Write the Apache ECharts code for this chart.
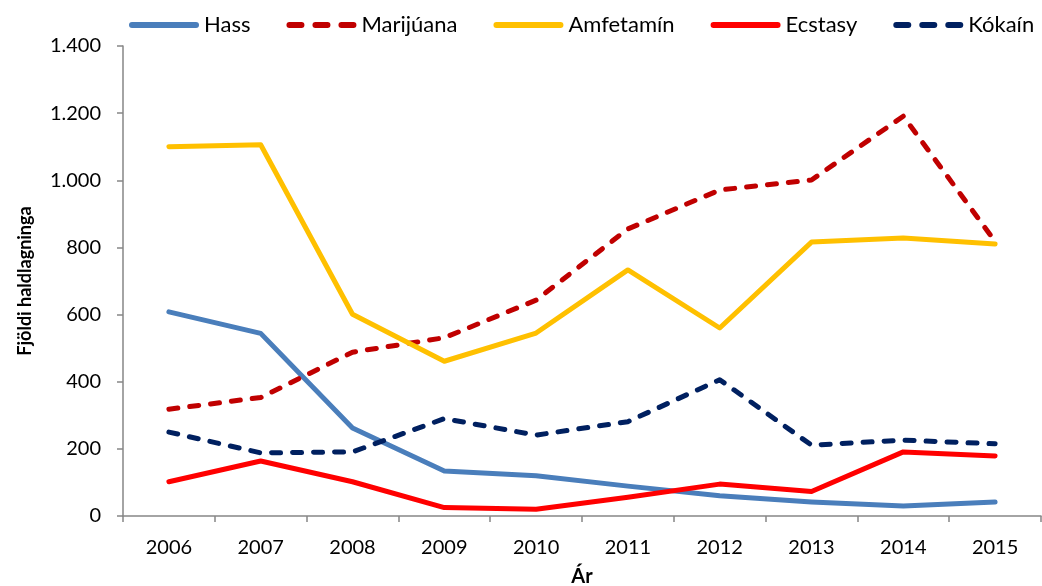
<!DOCTYPE html>
<html>
<head>
<meta charset="utf-8">
<script src="https://cdn.jsdelivr.net/npm/echarts@6/dist/echarts.min.js"></script>
<style>html,body{margin:0;padding:0;background:#fff}#c{width:1042px;height:586px}</style>
</head>
<body>
<div id="c"></div>
<script>
const years = ['2006','2007','2008','2009','2010','2011','2012','2013','2014','2015'];
const hass = [608, 544, 262, 134, 120, 89, 60, 42, 30, 42];
const marijuana = [318, 353, 488, 531, 643, 855, 971, 1001, 1191, 818];
const amfetamin = [1100, 1106, 601, 461, 545, 733, 560, 816, 828, 810];
const ecstasy = [102, 164, 102, 25, 20, 56, 95, 73, 191, 179];
const kokain = [250, 188, 191, 290, 241, 281, 406, 211, 226, 215];
const seriesNames = ['Hass','Marijúana','Amfetamín','Ecstasy','Kókaín'];
const yMin = 0, yMax = 1400, yStep = 200;

const font = 'Lato, "Open Sans", sans-serif';
const dash = [9, 12];
// legend icons (shapes only)
const solidIcon = 'path://M3,0H67A3,3 0 0 1 67,6H3A3,3 0 0 1 3,0Z';
const dashIcon = 'path://M3,0H15A3,3 0 0 1 15,6H3A3,3 0 0 1 3,0Z M29,0H41A3,3 0 0 1 41,6H29A3,3 0 0 1 29,0Z M55,0H67A3,3 0 0 1 67,6H55A3,3 0 0 1 55,0Z';
const iconOf = { 'Hass': solidIcon, 'Marijúana': dashIcon, 'Amfetamín': solidIcon, 'Ecstasy': solidIcon, 'Kókaín': dashIcon };
function mk(name, data, color, dashed) {
  return {
    name, type: 'line', data, symbol: 'none', showSymbol: false,
    lineStyle: { color, width: 5, type: dashed ? dash : 'solid', cap: 'round', join: 'round' },
    itemStyle: { color },
    emphasis: { disabled: true }
  };
}
const chart = echarts.init(document.getElementById('c'), null, { renderer: 'canvas' });
chart.setOption({
  animation: false,
  backgroundColor: '#fff',
  textStyle: { fontFamily: font },
  legend: {
    top: 9, left: 124,
    itemWidth: 70, itemHeight: 6, itemGap: 36,
    textStyle: { fontSize: 22, color: '#000', fontFamily: font },
    data: seriesNames.map(n => ({ name: n, icon: iconOf[n] }))
  },
  grid: { left: 123, right: 1, top: 46, bottom: 70, containLabel: false, outerBoundsMode: 'none' },
  xAxis: {
    type: 'category', data: years, boundaryGap: true,
    name: 'Ár', nameLocation: 'middle', nameGap: 51,
    nameTextStyle: { fontSize: 20, fontWeight: 'bold', color: '#000', fontFamily: font },
    axisLine: { lineStyle: { color: '#868686', width: 1.5 } },
    axisTick: { show: true, alignWithLabel: false, length: 6, lineStyle: { color: '#868686', width: 1.5 } },
    axisLabel: { fontSize: 20, color: '#000', margin: 22, fontFamily: font },
    splitLine: { show: false }
  },
  yAxis: {
    type: 'value', min: yMin, max: yMax, interval: yStep,
    name: 'Fjöldi haldlagninga', nameLocation: 'middle', nameGap: 89, nameRotate: 90,
    nameTextStyle: { fontSize: 18, fontWeight: 'bold', color: '#000', fontFamily: font },
    axisLine: { show: true, lineStyle: { color: '#868686', width: 1.5 } },
    axisTick: { show: true, length: 6, lineStyle: { color: '#868686', width: 1.5 } },
    axisLabel: {
      fontSize: 20, color: '#000', margin: 22, fontFamily: font,
      formatter: v => String(v).replace(/\B(?=(\d{3})+(?!\d))/g, '.')
    },
    splitLine: { show: false }
  },
  series: [
    mk('Hass', hass, '#4A7EBB', false),
    mk('Marijúana', marijuana, '#C00000', true),
    mk('Amfetamín', amfetamin, '#FFC000', false),
    mk('Ecstasy', ecstasy, '#FF0000', false),
    mk('Kókaín', kokain, '#002060', true)
  ]
});
</script>
</body>
</html>
